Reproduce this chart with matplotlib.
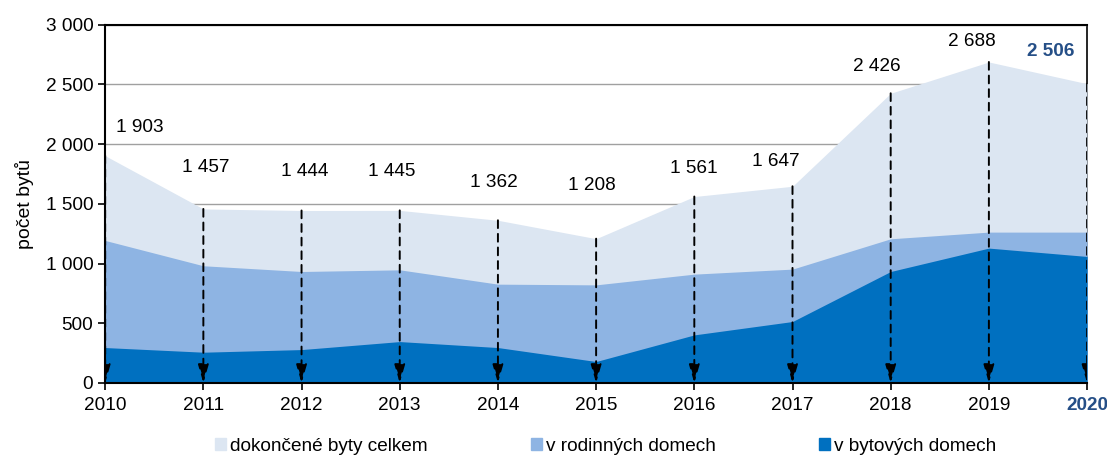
import matplotlib
matplotlib.use("Agg")
import matplotlib.pyplot as plt
from matplotlib.patches import Patch
from matplotlib.ticker import FuncFormatter

plt.rcParams['font.family'] = ['Liberation Sans', 'DejaVu Sans']

# data
years = [2010, 2011, 2012, 2013, 2014, 2015, 2016, 2017, 2018, 2019, 2020]
celkem = [1903, 1457, 1444, 1445, 1362, 1208, 1561, 1647, 2426, 2688, 2506]
rodinne = [1193, 981, 933, 947, 827, 821, 911, 953, 1207, 1263, 1263]
bytove = [296, 257, 279, 346, 296, 179, 402, 514, 933, 1129, 1059]

# offsets of the value labels (points)
label_off = [(25, 20), (2, 30), (2, 28), (-6, 28), (-3, 27), (-3, 38),
             (0, 20), (-12, 18), (-10, 19), (-12, 15), (-26, 23)]

c_light = '#DCE6F2'
c_mid = '#8EB4E3'
c_dark = '#0070C0'
c_navy = '#254F87'

fig = plt.figure(figsize=(11.07, 4.58), dpi=100)
ax = fig.add_axes([0.095, 0.164, 0.887, 0.782])

ax.fill_between(years, celkem, 0, color=c_light, lw=0, zorder=1)
ax.fill_between(years, rodinne, 0, color=c_mid, lw=0, zorder=1.1)
ax.fill_between(years, bytove, 0, color=c_dark, lw=0, zorder=1.2)

ax.set_xlim(2010, 2020)
ax.set_ylim(0, 3000)
ax.set_yticks(range(0, 3001, 500))
ax.yaxis.set_major_formatter(FuncFormatter(lambda v, p: f"{v:,.0f}".replace(",", " ")))
ax.set_xticks(years)
ax.set_xticklabels([str(y) for y in years])
ax.grid(axis='y', color='#A0A0A0', lw=1, zorder=0)
ax.set_axisbelow(True)
ax.tick_params(labelsize=13.7, length=5, width=1.2, color='black')
ax.tick_params(axis='x', pad=5)
lbl = ax.get_xticklabels()[-1]
lbl.set_fontweight('bold')
lbl.set_color(c_navy)
for s in ['left', 'bottom', 'top']:
    ax.spines[s].set_linewidth(1.5)
    ax.spines[s].set_zorder(3)
ax.spines['right'].set_linewidth(1.2)
ax.spines['right'].set_zorder(0.5)
ax.set_ylabel('počet bytů', fontsize=14, labelpad=8)

# dashed arrows + labels
for i, (yr, v) in enumerate(zip(years, celkem)):
    ann = ax.annotate('', xy=(yr, 0), xytext=(yr, v),
                      arrowprops=dict(arrowstyle='-|>,head_length=0.55,head_width=0.16',
                                      linestyle=(0, (4, 3)),
                                      color='black', lw=1.4, mutation_scale=20,
                                      shrinkA=0, shrinkB=0), zorder=4)
    ann.arrow_patch.set_clip_box(ax.bbox)
    ann.arrow_patch.set_clip_on(True)
    txt = f"{v:,}".replace(",", " ")
    bold = i == len(years) - 1
    ax.annotate(txt, xy=(yr, v), xytext=label_off[i], textcoords='offset points',
                ha='center', va='center', fontsize=13.7,
                fontweight='bold' if bold else 'normal',
                color=c_navy if bold else 'black',
                bbox=dict(facecolor='white', edgecolor='none', pad=1) if i == 7 else None,
                zorder=5, annotation_clip=False)

handles = [Patch(color=c_light, label='dokončené byty celkem'),
           Patch(color=c_mid, label='v rodinných domech'),
           Patch(color=c_dark, label='v bytových domech')]
fig.legend(handles=handles, loc='center', bbox_to_anchor=(0.547, 0.025), ncol=3,
           frameon=False, fontsize=13.7, handlelength=0.6, handleheight=0.6,
           handletextpad=0.2, columnspacing=5.4)

fig.savefig('out.png', dpi=100)
